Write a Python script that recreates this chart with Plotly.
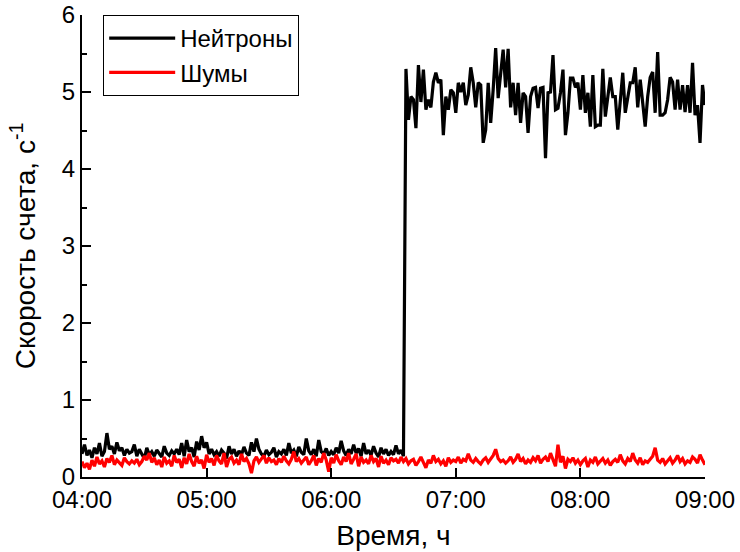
import plotly.graph_objects as go
import pandas as pd

start_time = "2024-01-01 04:00:00"
step_seconds = 72

neutrons_low = [
    0.30, 0.42, 0.28, 0.35, 0.25, 0.38, 0.30, 0.44, 0.27, 0.33,
    0.57, 0.36, 0.40, 0.30, 0.45, 0.34, 0.38, 0.28, 0.36, 0.31,
    0.33, 0.42, 0.27, 0.36, 0.30, 0.24, 0.38, 0.29, 0.33, 0.27,
    0.35, 0.30, 0.26, 0.40, 0.31, 0.28, 0.34, 0.30, 0.36, 0.29,
    0.44, 0.27, 0.48, 0.33, 0.38, 0.26, 0.46, 0.35, 0.53, 0.38,
    0.45, 0.30, 0.36, 0.29, 0.33, 0.27, 0.35, 0.31, 0.24, 0.40,
    0.30, 0.36, 0.27, 0.34, 0.29, 0.39, 0.31, 0.28, 0.45, 0.33,
    0.50, 0.36, 0.30, 0.27, 0.35, 0.29, 0.32, 0.38, 0.26, 0.33,
    0.30, 0.36, 0.28, 0.44, 0.31, 0.35, 0.27, 0.39, 0.32, 0.29,
    0.50, 0.34, 0.29, 0.36, 0.27, 0.48, 0.33, 0.30, 0.37, 0.28,
    0.33, 0.29, 0.38, 0.31, 0.47, 0.34, 0.28, 0.36, 0.30, 0.42,
    0.31, 0.37, 0.27, 0.44, 0.30, 0.35, 0.28, 0.40, 0.31, 0.26,
    0.38, 0.30, 0.36, 0.28, 0.33, 0.29, 0.41, 0.30, 0.35, 0.27,
]

neutrons_high = [
    5.30, 4.64, 4.94, 4.90, 4.53, 5.35, 4.87, 5.29, 4.77, 4.90,
    4.80, 5.13, 5.25, 5.12, 5.16, 4.44, 4.94, 4.77, 5.03, 4.99,
    4.73, 5.12, 5.00, 5.12, 4.83, 4.96, 5.32, 5.12, 4.80, 5.12,
    5.09, 4.34, 4.51, 5.12, 4.60, 5.03, 5.57, 4.92, 5.29, 5.55,
    5.06, 5.56, 4.80, 5.12, 4.70, 5.12, 4.60, 4.99, 4.94, 4.47,
    4.94, 5.05, 5.06, 4.79, 5.05, 5.06, 4.14, 4.99, 5.00, 5.48,
    4.77, 4.79, 4.99, 5.29, 4.44, 4.73, 5.18, 5.18, 5.06, 5.12,
    4.77, 5.22, 4.73, 4.99, 4.55, 5.22, 4.55, 4.57, 4.57, 5.30,
    4.68, 4.94, 5.19, 4.94, 4.94, 4.51, 4.94, 5.25, 4.73, 4.94,
    5.12, 5.12, 5.32, 4.80, 5.16, 4.86, 4.55, 4.94, 5.19, 5.26,
    4.73, 5.52, 4.70, 4.70, 4.73, 4.90, 5.19, 5.13, 4.77, 5.16,
    4.77, 5.09, 4.74, 5.09, 4.73, 5.38, 4.70, 4.83, 4.34, 5.09,
    4.83,
]

noise = [
    0.20, 0.12, 0.18, 0.10, 0.22, 0.14, 0.26, 0.17, 0.21, 0.13,
    0.24, 0.19, 0.28, 0.16, 0.22, 0.18, 0.15, 0.25, 0.20, 0.17,
    0.21, 0.18, 0.23, 0.16, 0.20, 0.27, 0.22, 0.31, 0.19, 0.25,
    0.16, 0.22, 0.13, 0.26, 0.18, 0.21, 0.14, 0.28, 0.19, 0.23,
    0.12, 0.25, 0.17, 0.30, 0.20, 0.14, 0.27, 0.18, 0.22, 0.11,
    0.29, 0.19, 0.24, 0.15, 0.28, 0.21, 0.17, 0.31, 0.13, 0.23,
    0.26, 0.18, 0.22, 0.16, 0.30, 0.20, 0.24, 0.17, 0.05, 0.21,
    0.26, 0.19, 0.23, 0.28, 0.18, 0.25, 0.20, 0.22, 0.16, 0.24,
    0.19, 0.27, 0.21, 0.17, 0.23, 0.33, 0.20, 0.24, 0.18, 0.22,
    0.26, 0.16, 0.21, 0.28, 0.15, 0.24, 0.19, 0.31, 0.22, 0.07,
    0.25, 0.18, 0.29, 0.21, 0.16, 0.26, 0.20, 0.31, 0.17, 0.23,
    0.30, 0.14, 0.26, 0.19, 0.22, 0.17, 0.28, 0.20, 0.24, 0.13,
    0.27, 0.18, 0.22, 0.16, 0.25, 0.21, 0.23, 0.18, 0.26, 0.20,
    0.24, 0.17, 0.21, 0.23, 0.15, 0.20, 0.26, 0.19, 0.12, 0.22,
    0.18, 0.28, 0.20, 0.23, 0.17, 0.21, 0.14, 0.25, 0.19, 0.22,
    0.20, 0.26, 0.18, 0.23, 0.21, 0.30, 0.22, 0.19, 0.24, 0.20,
    0.17, 0.22, 0.25, 0.19, 0.23, 0.28, 0.36, 0.24, 0.20, 0.22,
    0.18, 0.21, 0.26, 0.19, 0.23, 0.30, 0.20, 0.24, 0.17, 0.22,
    0.19, 0.25, 0.21, 0.28, 0.18, 0.23, 0.26, 0.20, 0.31, 0.22,
    0.14, 0.42, 0.19, 0.27, 0.11, 0.23, 0.20, 0.25, 0.18, 0.22,
    0.16, 0.21, 0.24, 0.13, 0.22, 0.19, 0.26, 0.17, 0.21, 0.24,
    0.18, 0.22, 0.15, 0.20, 0.23, 0.19, 0.29, 0.21, 0.17, 0.24,
    0.20, 0.31, 0.22, 0.18, 0.25, 0.16, 0.21, 0.19, 0.23, 0.27,
    0.38, 0.22, 0.19, 0.24, 0.17, 0.21, 0.25, 0.18, 0.22, 0.28,
    0.20, 0.24, 0.17, 0.21, 0.19, 0.26, 0.23, 0.18, 0.29, 0.22,
    0.16,
]

neutrons = neutrons_low + neutrons_high
times = pd.date_range(start_time, periods=len(neutrons), freq=f"{step_seconds}s")

x_ticks = ["04:00", "05:00", "06:00", "07:00", "08:00", "09:00"]
tick_vals = [pd.Timestamp("2024-01-01 " + t) for t in x_ticks]

FONT = "Liberation Sans, Arial, sans-serif"

fig = go.Figure()
fig.add_trace(go.Scatter(x=times, y=neutrons, mode="lines", name="Нейтроны",
                         line=dict(color="black", width=3.2)))
fig.add_trace(go.Scatter(x=times, y=noise, mode="lines", name="Шумы",
                         line=dict(color="#ff0000", width=3.2)))

fig.update_layout(
    width=740, height=552,
    margin=dict(l=82, r=35, t=15, b=75),
    paper_bgcolor="white", plot_bgcolor="white",
    font=dict(family=FONT, size=24, color="black"),
    showlegend=True,
    legend=dict(x=0.034, y=1.0, xanchor="left", yanchor="top",
                bordercolor="black", borderwidth=1, bgcolor="white",
                font=dict(size=24), tracegroupgap=0, itemwidth=66),
    xaxis=dict(
        type="date", automargin=False,
        range=[tick_vals[0], tick_vals[-1]],
        tickvals=tick_vals, ticktext=x_ticks,
        ticks="inside", ticklen=9, tickwidth=1.5, tickcolor="black",
        showline=True, linecolor="black", linewidth=2,
        showgrid=False, zeroline=False,
        tickfont=dict(size=24),
        title=dict(text="Время, ч", font=dict(size=28), standoff=14),
    ),
    yaxis=dict(
        range=[0, 6], dtick=1, tick0=0, automargin=False,
        ticks="inside", ticklen=9, tickwidth=1.5, tickcolor="black",
        minor=dict(dtick=0.5, ticks="inside", ticklen=5, tickwidth=1.5, tickcolor="black"),
        showline=True, linecolor="black", linewidth=2,
        showgrid=False, zeroline=False,
        tickfont=dict(size=24),
        title=dict(text="Скорость счета, с<sup>-1</sup>", font=dict(size=28), standoff=18),
    ),
)

fig.write_html("out.html")
